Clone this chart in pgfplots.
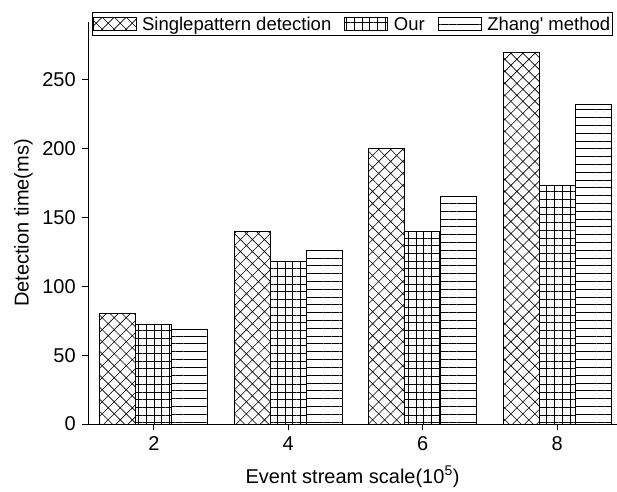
\documentclass[border=0pt]{standalone}
\usepackage{fontspec}
\setmainfont{Liberation Sans}[Ligatures=TeXOff]
\usepackage{pgfplots}
\pgfplotsset{compat=1.18}
\usetikzlibrary{patterns.meta}
\begin{document}
\fontsize{18.5bp}{22bp}\selectfont
\begin{tikzpicture}
\begin{axis}[
  scale only axis,
  width=529bp, height=402bp,
  xmin=1.02, xmax=8.89, ymin=0, ymax=292,
  axis x line*=bottom, axis y line*=left,
  axis line style={line width=0.9pt},
  xtick={2,4,6,8}, ytick={0,50,100,150,200,250},
  tick align=outside, major tick length=6bp,
  tick style={line width=0.9pt, black},
  /pgf/number format/assume math mode=true,
  ticklabel style={font=\fontsize{20bp}{24bp}\selectfont},
  label style={font=\fontsize{20bp}{24bp}\selectfont},
  xlabel={Event stream scale(10\textsuperscript{5})},
  xlabel style={yshift=-3bp},
  ylabel={Detection time(ms)},
  ylabel style={yshift=-3bp},
  ybar=0pt, bar width=36bp,
  legend columns=3,
  legend style={at={(0.9924,1.025)}, anchor=north east, draw=black, line width=0.6pt,
    font=\fontsize{18.5bp}{22bp}\selectfont, inner sep=0.5pt,
    /tikz/every odd column/.append style={column sep=4bp},
    /tikz/every even column/.append style={column sep=11bp}},
  legend image code/.code={\draw[#1, line width=0.6pt] (0bp,-6.5bp) rectangle (43bp,6.5bp);},
]
\addplot[draw=black, line width=0.9pt, pattern={Hatch[angle=45, distance=8.5bp, line width=0.6pt]}]
  coordinates {(2,80) (4,140) (6,200) (8,270)};
\addplot[draw=black, line width=0.9pt, pattern={Hatch[angle=0, distance=7.7bp, line width=0.6pt]}]
  coordinates {(2,72) (4,118) (6,140) (8,173)};
\addplot[draw=black, line width=0.9pt, pattern={Lines[angle=0, distance=7.8bp, line width=0.6pt]}]
  coordinates {(2,69) (4,126) (6,165) (8,232)};
\legend{\strut Singlepattern detection, \strut Our, \strut Zhang' method}
\coordinate (bbA) at ([xshift=-88bp,yshift=-68bp]rel axis cs:0,0);
\coordinate (bbB) at ([yshift=22bp]rel axis cs:1,1);
\end{axis}
\pgfresetboundingbox
\path (bbA) rectangle (bbB);
\end{tikzpicture}
\end{document}
